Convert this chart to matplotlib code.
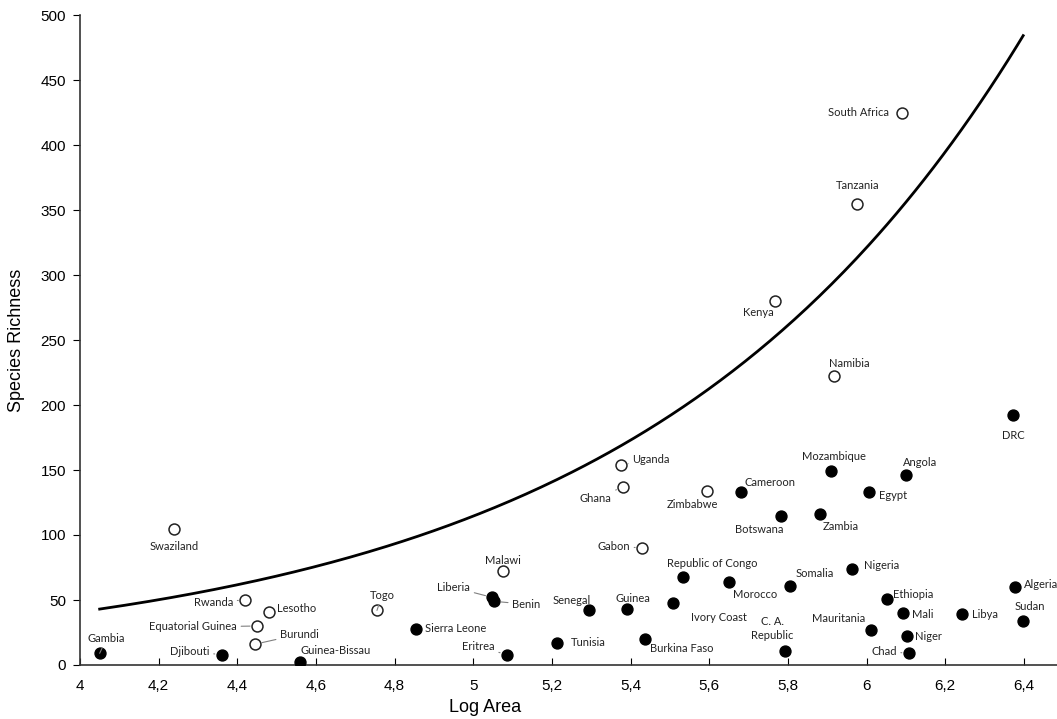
import numpy as np
import matplotlib.pyplot as plt
from matplotlib.ticker import FuncFormatter

# datos
countries = ['Gambia', 'Djibouti', 'Guinea-Bissau', 'Swaziland', 'Rwanda', 'Lesotho',
             'Equatorial Guinea', 'Burundi', 'Togo', 'Sierra Leone', 'Liberia', 'Benin',
             'Eritrea', 'Malawi', 'Tunisia', 'Senegal', 'Guinea', 'Burkina Faso',
             'Ivory Coast', 'Republic of Congo', 'Morocco', 'C. A.\nRepublic', 'Somalia',
             'Nigeria', 'Mauritania', 'Ethiopia', 'Mali', 'Niger', 'Chad', 'Libya',
             'Algeria', 'Sudan', 'Gabon', 'Uganda', 'Ghana', 'Zimbabwe', 'Cameroon',
             'Botswana', 'Zambia', 'Mozambique', 'Egypt', 'Angola', 'DRC', 'Namibia',
             'Kenya', 'Tanzania', 'South Africa']
log_area = [4.05, 4.36, 4.56, 4.24, 4.42, 4.48,
            4.45, 4.445, 4.755, 4.855, 5.048, 5.053,
            5.085, 5.075, 5.213, 5.294, 5.391, 5.437,
            5.507, 5.532, 5.649, 5.793, 5.804,
            5.964, 6.012, 6.051, 6.092, 6.103, 6.107, 6.243,
            6.376, 6.398, 5.429, 5.376, 5.380, 5.595, 5.681,
            5.782, 5.881, 5.909, 6.006, 6.101, 6.373, 5.918,
            5.766, 5.976, 6.089]
richness = [9, 8, 2, 105, 50, 41,
            30, 16, 42, 28, 52, 49,
            8, 72, 17, 42, 43, 20,
            48, 68, 64, 11, 61,
            74, 27, 51, 40, 22, 9, 39,
            60, 34, 90, 154, 137, 134, 133,
            115, 116, 149, 133, 146, 192, 222,
            280, 355, 425]
hollow = ['Swaziland', 'Rwanda', 'Lesotho', 'Equatorial Guinea', 'Burundi', 'Togo',
          'Malawi', 'Gabon', 'Uganda', 'Ghana', 'Zimbabwe', 'Kenya', 'Tanzania',
          'Namibia', 'South Africa']

# curva exponencial y = a * exp(b * x)
curve_a = 0.661
curve_b = 1.031

# posicion de cada etiqueta: (dx, dy en pixeles, alineacion, linea guia)
label_pos = {
    'Gambia': (7, 15, 'center', True),
    'Djibouti': (-12, 3, 'right', True),
    'Guinea-Bissau': (0, 12, 'left', False),
    'Swaziland': (0, -18, 'center', False),
    'Rwanda': (-12, -2, 'right', True),
    'Lesotho': (8, 3, 'left', False),
    'Equatorial Guinea': (-20, -1, 'right', True),
    'Burundi': (25, 10, 'left', True),
    'Togo': (5, 15, 'center', True),
    'Sierra Leone': (9, 0, 'left', False),
    'Liberia': (-22, 10, 'right', True),
    'Benin': (18, -3, 'left', True),
    'Eritrea': (-12, 8, 'right', True),
    'Malawi': (0, 11, 'center', False),
    'Tunisia': (14, 0, 'left', False),
    'Senegal': (-17, 10, 'center', False),
    'Guinea': (6, 11, 'center', False),
    'Burkina Faso': (5, -10, 'left', False),
    'Ivory Coast': (18, -15, 'left', False),
    'Republic of Congo': (30, 13, 'center', False),
    'Morocco': (27, -13, 'center', False),
    'C. A.\nRepublic': (-13, 22, 'center', False),
    'Somalia': (6, 12, 'left', False),
    'Nigeria': (12, 3, 'left', False),
    'Mauritania': (-6, 11, 'right', False),
    'Ethiopia': (6, 4, 'left', False),
    'Mali': (9, -2, 'left', False),
    'Niger': (8, 0, 'left', False),
    'Chad': (-12, 2, 'right', True),
    'Libya': (10, 0, 'left', False),
    'Algeria': (9, 3, 'left', False),
    'Sudan': (7, 14, 'center', False),
    'Gabon': (-12, 2, 'right', True),
    'Uganda': (11, 5, 'left', True),
    'Ghana': (-11, -12, 'right', True),
    'Zimbabwe': (-15, -14, 'center', False),
    'Cameroon': (3, 10, 'left', False),
    'Botswana': (-22, -14, 'center', False),
    'Zambia': (21, -12, 'center', False),
    'Mozambique': (3, 15, 'center', False),
    'Egypt': (10, -3, 'left', False),
    'Angola': (14, 13, 'center', False),
    'DRC': (0, -20, 'center', False),
    'Namibia': (15, 13, 'center', False),
    'Kenya': (-16, -11, 'center', False),
    'Tanzania': (0, 18, 'center', False),
    'South Africa': (-13, 0, 'right', False),
}

plt.rcParams['font.family'] = ['Liberation Sans', 'DejaVu Sans']

fig = plt.figure(figsize=(10.57, 7.19), dpi=100)
ax = fig.add_axes([80 / 1057, 54 / 719, 983.3 / 1057, 650 / 719])

x = np.array(log_area)
y = np.array(richness)
is_hollow = np.array([c in hollow for c in countries])

xc = np.linspace(x.min(), x.max(), 300)
ax.plot(xc, curve_a * np.exp(curve_b * xc), color='black', lw=2, zorder=2)

ax.scatter(x[~is_hollow], y[~is_hollow], s=62, color='black', zorder=3)
ax.scatter(x[is_hollow], y[is_hollow], s=62, facecolor='white', edgecolor='#222222',
           linewidth=1.1, zorder=3)

for name, xi, yi in zip(countries, log_area, richness):
    dx, dy, ha, leader = label_pos[name]
    props = None
    if leader:
        props = dict(arrowstyle='-', color='#808080', lw=0.8, shrinkA=1, shrinkB=5)
    ax.annotate(name, (xi, yi), xytext=(dx, dy), textcoords='offset pixels',
                ha=ha, va='center', fontsize=8, family='Lato', color='#222222',
                linespacing=1.3, arrowprops=props, zorder=4)

ax.set_xlim(4, 6.5)
ax.set_ylim(0, 500)
ax.set_xticks(np.arange(4, 6.41, 0.2))
ax.set_yticks(np.arange(0, 501, 50))
ax.xaxis.set_major_formatter(FuncFormatter(lambda v, p: ('%g' % round(v, 1)).replace('.', ',')))
ax.tick_params(axis='x', direction='in', length=5, pad=10, labelsize=11)
ax.tick_params(axis='y', direction='out', length=5, pad=5, labelsize=11)

for s in ['top', 'right']:
    ax.spines[s].set_visible(False)
for s in ['left', 'bottom']:
    ax.spines[s].set_color('#333333')
    ax.spines[s].set_linewidth(1.2)

ax.set_xlabel('Log Area', fontsize=13)
ax.xaxis.set_label_coords(0.412, -0.053)
ax.set_ylabel('Species Richness', fontsize=13)
ax.yaxis.set_label_coords(-0.056, 0.5)

fig.savefig('out.png', dpi=100)
